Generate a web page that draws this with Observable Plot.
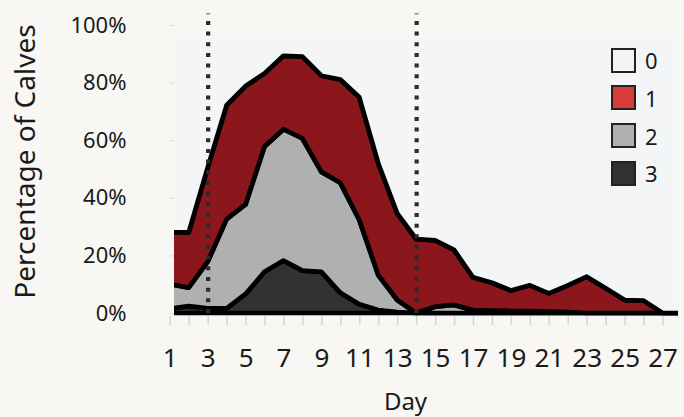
<!DOCTYPE html>
<html>
<head>
<meta charset="utf-8">
<script src="https://cdn.jsdelivr.net/npm/d3@7"></script>
<script src="https://cdn.jsdelivr.net/npm/@observablehq/plot@0.6"></script>
<style>
  html, body { margin: 0; padding: 0; background: #f8f7f3; }
  #wrap { position: relative; width: 684px; height: 417px; font-family: "Noto Sans", sans-serif; color: #1a1a1a; }
  #legend { position: absolute; left: 611px; top: 47px; }
  .row { display: flex; align-items: center; height: 26px; margin-bottom: 11.8px; }
  .sw { width: 21px; height: 21px; border: 2.5px solid #222; }
  .lab { font-size: 22px; margin-left: 9px; line-height: 26px; }
</style>
</head>
<body>
<div id="wrap"></div>
<script>
// Day numbers
const days = [1,2,3,4,5,6,7,8,9,10,11,12,13,14,15,16,17,18,19,20,21,22,23,24,25,26,27,28];
// Percentage of calves per score, by day
const score3 = [1.5,2.4,1.6,1.6,6.6,14.3,18.2,14.7,14.3,7.0,3.0,1.0,0.3,0,0,0,0,0,0,0,0,0,0,0,0,0,0,0];
const score2 = [8.5,6.4,16.2,31.0,31.1,43.5,45.6,45.9,34.7,38.2,29.3,12.2,4.2,0,2.2,2.8,1.0,0.8,0.7,0.7,0.5,0.3,0,0,0,0,0,0];
const score1 = [18.0,19.2,32.7,39.6,41.1,25.4,25.5,28.4,33.4,35.9,42.6,38.8,30.1,25.7,23.0,19.1,11.4,9.7,7.1,8.9,6.3,9.3,12.6,8.6,4.5,4.3,0,0];
const score0 = [72.0,72.0,49.5,27.8,21.2,16.8,10.7,11.0,17.6,18.9,25.1,48.0,65.4,74.3,74.8,78.1,87.6,89.5,92.2,90.4,93.2,90.4,87.4,91.4,95.5,95.7,100,100];
// Scores (legend order) and colours
const scores = ["0","1","2","3"];
const areaColors = ["#f4f5f7", "#8b171c", "#b0b0b0", "#303331"];
const legendColors = ["#f4f4f4", "#d63c3c", "#b0b0b0", "#2f3230"];
// Marked days (dotted lines)
const markerDays = [3, 14];
// Tick labels
const xTickLabels = [1,3,5,7,9,11,13,15,17,19,21,23,25,27];
const xTickMarks = [1,2,3,4,5,6,7,8,9,10,11,12,13,14,15,16,17,18,19,20,21,22,23,24,25,26,27];
const yTicks = [0,20,40,60,80,100];

const seriesByScore = {"3": score3, "2": score2, "1": score1, "0": score0};
const rows = [];
for (const s of ["3","2","1","0"]) {
  days.forEach((d, i) => rows.push({day: d, score: s, pct: seriesByScore[s][i]}));
}

const chart = Plot.plot({
  width: 684,
  height: 417,
  marginLeft: 174,
  marginRight: 6,
  marginTop: 35,
  marginBottom: 101,
  style: {fontFamily: "Noto Sans, sans-serif", color: "#1a1a1a", background: "transparent", overflow: "visible"},
  x: {domain: [1, 28], insetLeft: -4.25, insetRight: -3.5, axis: null},
  y: {domain: [0, 100], insetTop: -10, insetBottom: 3, axis: null},
  color: {domain: scores, range: areaColors},
  marks: [
    Plot.frame({fill: "#f4f5f7", stroke: null}),
    Plot.areaY(rows, Plot.stackY({
      x: "day", y: "pct", z: "score", fill: "score",
      stroke: "#000", strokeWidth: 4.7, strokeLinejoin: "round", clip: "frame"
    })),
    Plot.ruleX(markerDays, {y1: 0, y2: 104, stroke: "#2b2b2b", strokeWidth: 4.2, strokeDasharray: "4 6.67"}),
    Plot.axisX(xTickMarks, {tickSize: 9, tickFormat: () => "", stroke: "#d4d4d4", strokeWidth: 1.5, label: null}),
    Plot.axisX(xTickLabels, {tickSize: 0, tickPadding: 32, fontSize: 26, fill: "#1a1a1a", label: null}),
    Plot.axisY(yTicks, {tickSize: 5, tickPadding: 43, fontSize: 22, stroke: "#dcdcdc", fill: "#1a1a1a", tickFormat: d => d + "%", label: null}),
    Plot.text(["Day"], {frameAnchor: "bottom", textAnchor: "middle", lineAnchor: "top", dx: -21, dy: 76, fontSize: 24, fill: "#1a1a1a"}),
    Plot.text(["Percentage of Calves"], {frameAnchor: "left", textAnchor: "middle", lineAnchor: "middle", rotate: -90, dx: -148, dy: -14.5, fontSize: 28, fill: "#1a1a1a"})
  ]
});
const wrap = document.getElementById("wrap");
wrap.appendChild(chart);

const legend = document.createElement("div");
legend.id = "legend";
scores.forEach((s, i) => {
  const row = document.createElement("div");
  row.className = "row";
  const sw = document.createElement("div");
  sw.className = "sw";
  sw.style.background = legendColors[i];
  const lab = document.createElement("span");
  lab.className = "lab";
  lab.textContent = s;
  row.appendChild(sw); row.appendChild(lab);
  legend.appendChild(row);
});
wrap.appendChild(legend);
</script>
</body>
</html>
